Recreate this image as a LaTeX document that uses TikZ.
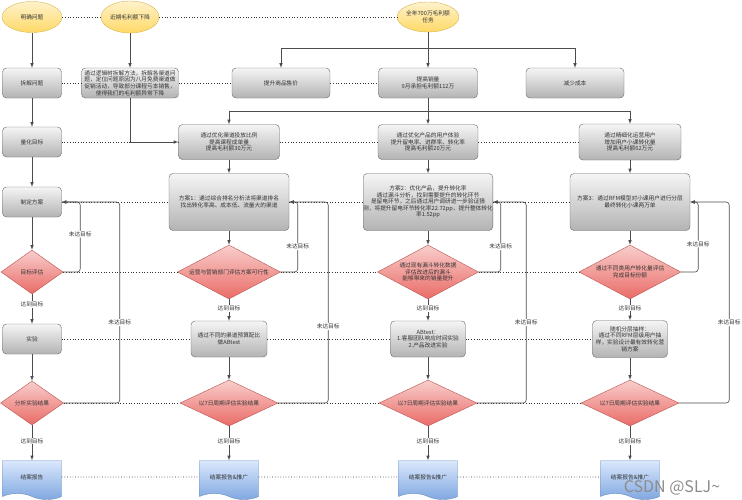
\documentclass[tikz,border=0pt]{standalone}
\usepackage{fontspec}
\newfontfamily\cjk{Noto Sans CJK SC}
\usepackage{tikz}
\usetikzlibrary{shapes,arrows,positioning}
\definecolor{yelTop}{HTML}{FFF2CC}
\definecolor{yelBot}{HTML}{FFD966}
\definecolor{yelLine}{HTML}{D6B656}
\definecolor{grayTop}{HTML}{F5F5F5}
\definecolor{grayBot}{HTML}{B3B3B3}
\definecolor{grayLine}{HTML}{666666}
\definecolor{redTop}{HTML}{F8CECC}
\definecolor{redBot}{HTML}{EA6B66}
\definecolor{redLine}{HTML}{B85450}
\definecolor{blueTop}{HTML}{DAE8FC}
\definecolor{blueBot}{HTML}{7EA6E0}
\definecolor{blueLine}{HTML}{6C8EBF}
\definecolor{textCol}{HTML}{333333}
\tikzstyle{startend} = [draw=yelLine, ellipse, top color=yelTop, bottom color=yelBot,
minimum width=58pt, minimum height=30pt, inner sep=0pt, align=center]
\tikzstyle{block} = [draw=grayLine, rectangle, rounded corners=4pt, top color=grayTop, bottom color=grayBot,
minimum height=30pt, inner sep=0pt, align=center]
\tikzstyle{decision} = [draw=redLine, diamond, shape aspect=1.9, top color=redTop, bottom color=redBot,
inner sep=0pt, align=center]
\tikzstyle{report} = [draw=blueLine, tape, tape bend top=none, tape bend bottom=out and in, tape bend height=6pt,
top color=blueTop, bottom color=blueBot, minimum width=59pt, minimum height=39pt, inner sep=0pt]
\tikzstyle{line} = [draw=black!70, line width=0.6pt, ->, >=latex]
\tikzstyle{link} = [draw=black!80, dotted, line width=0.7pt]
\tikzstyle{lbl} = [fill=white, inner sep=0.8pt]
\begin{document}
\begin{tikzpicture}[node distance=66pt, font=\cjk\fontsize{5.7}{6.6}\selectfont, text=textCol]

	\useasboundingbox (0pt,0pt) rectangle (742pt,-499pt);

	\node [startend, minimum width=60pt, minimum height=31pt] (q1) at (32pt,-17pt) {明确问题};
	\node [block, below of=q1, minimum width=59pt] (q2) {拆解问题};
	\node [block, below of=q2, node distance=59pt, minimum width=59pt] (q3) {量化目标};
	\node [block, below of=q3, node distance=60pt, minimum width=59pt] (q4) {制定方案};
	\node [decision, below of=q4, node distance=70pt, minimum width=62pt, minimum height=44pt] (q5) {目标评估};
	\node [block, below of=q5, node distance=67pt, minimum width=59pt] (q6) {实验};
	\node [decision, below of=q6, node distance=64pt, minimum width=63pt, minimum height=44pt] (q7) {分析实验结果};
	\node [report, below of=q7, node distance=74pt] (q8) {结案报告};

	\node [startend, right of=q1, node distance=98pt, minimum height=32pt] (w1) {近期毛利额下降};
	\node [block, right of=q2, node distance=98pt, minimum width=97pt] (w2) {通过逻辑树拆解方法，拆解各渠道问\\题，定位问题原因为八月免费渠道做\\促销活动，导致部分课程亏本销售，\\使得我们的毛利额异常下降};
	\node [startend, right of=w1, node distance=298pt, minimum width=56pt] (t1) {全年700万毛利额\\任务};
	\node [block, right of=w2, node distance=298pt, minimum width=99pt] (t2) {提高销量\\9月承担毛利额112万};
	\node [block, left of=t2, node distance=147pt, minimum width=98pt] (p1) {提升商品售价};
	\node [block, right of=t2, node distance=147pt, minimum width=98pt] (c1) {减少成本};

	\node [block, right of=q3, node distance=197pt, minimum width=101pt, minimum height=35pt] (a3) {通过优化渠道投放比例\\提高课程成单量\\提高毛利额30万元};
	\node [block, right of=q4, node distance=197pt, minimum width=120pt, minimum height=57pt] (a4) {方案1：通过综合排名分析法将渠道排名\\找出转化率高、成本低、流量大的渠道};
	\node [decision, right of=q5, node distance=197pt, minimum width=103pt, minimum height=54pt] (a5) {运营与营销部门评估方案可行性};
	\node [block, right of=q6, node distance=197pt, minimum width=76pt, minimum height=36pt] (a6) {通过不同的渠道预算配比\\做ABtest};
	\node [decision, right of=q7, node distance=197pt, minimum width=98pt, minimum height=46pt] (a7) {以7日周期评估实验结果};
	\node [report, right of=q8, node distance=197pt] (a8) {结案报告\&推广};

	\node [block, right of=a3, node distance=199pt, minimum width=100pt, minimum height=35pt] (b3) {通过优化产品的用户体验\\提升留电率、进群率、转化率\\提高毛利额20万元};
	\node [block, right of=a4, node distance=199pt, minimum width=129pt, minimum height=57pt] (b4) {方案2：优化产品，提升转化率\\通过漏斗分析，找到需要提升的转化环节\\是留电环节，之后通过用户调研进一步验证猜\\测，将提升留电环节转化率22.72pp，提升整体转化\\率1.52pp};
	\node [decision, right of=a5, node distance=199pt, minimum width=101pt, minimum height=54pt] (b5) {通过现有漏斗转化数据\\评估改进后的漏斗\\能够带来的销量提升};
	\node [block, right of=a6, node distance=199pt, minimum width=75pt, minimum height=36pt] (b6) {ABtest：\\1.客服团队响应时间实验\\2.产品改进实验};
	\node [decision, right of=a7, node distance=199pt, minimum width=98pt, minimum height=46pt] (b7) {以7日周期评估实验结果};
	\node [report, right of=a8, node distance=199pt] (b8) {结案报告\&推广};

	\node [block, right of=b3, node distance=202pt, minimum width=102pt, minimum height=36pt] (c3) {通过精细化运营用户\\增加用户小课转化量\\提高毛利额62万元};
	\node [block, right of=b4, node distance=202pt, minimum width=120pt, minimum height=57pt] (c4) {方案3：通过RFM模型对小课用户进行分层\\最终转化小课两万单};
	\node [decision, right of=b5, node distance=202pt, minimum width=102pt, minimum height=54pt] (c5) {通过不同类用户转化量评估\\完成目标份额};
	\node [block, right of=b6, node distance=202pt, minimum width=75pt, minimum height=37pt] (c6) {随机分层抽样：\\通过不同RFM层级用户抽\\样，实验设计最有效转化营\\销方案};
	\node [decision, right of=b7, node distance=202pt, minimum width=98pt, minimum height=46pt] (c7) {以7日周期评估实验结果};
	\node [report, right of=b8, node distance=202pt] (c8) {结案报告\&推广};

	\node [text=black!45, font=\cjk\fontsize{16}{16}\selectfont] (mark) at (672pt,-488pt) {CSDN @SLJ\textasciitilde};

	\draw [link] (q1) -- (w1) -- (t1);
	\draw [link] (q2) -- (w2) -- (p1) -- (t2);
	\draw [link] (q3) -- (a3) -- (b3) -- (c3);
	\draw [link] (q4) -- (a4) -- (b4) -- (c4);
	\draw [link] (q5) -- (a5) -- (b5) -- (c5);
	\draw [link] (q6) -- (a6) -- (b6) -- (c6);
	\draw [link] (q7) -- (a7) -- (b7) -- (c7);
	\draw [link] (q8) -- (a8) -- (b8) -- (c8);

	\draw [line] (q1) -- (q2);
	\draw [line] (q2) -- (q3);
	\draw [line] (q3) -- (q4);
	\draw [line] (q4) -- (q5);
	\draw [line] (q5) -- node[lbl, pos=0.35] {达到目标} (q6);
	\draw [line] (q6) -- (q7);
	\draw [line] (q7) -- node[lbl, pos=0.45] {达到目标} (q8);
	\draw [line, rounded corners=3pt] (q5.east) -- ++(17pt,0) |- node[lbl, pos=0.27] {未达目标} (q4.east);
	\draw [line, rounded corners=3pt] (q7.east) -- ++(56pt,0) |- node[lbl, pos=0.2] {未达目标} (q4.east);

	\draw [line] (w1) -- (w2);
	\draw [line] (w2) |- (a3);
	\draw [line] (t1) -- (t2);
	\draw [line] (t1.south) -- ++(0,-16pt) -| (p1);
	\draw [line] (t1.south) -- ++(0,-16pt) -| (c1);
	\draw [line] (t2) -- (b3);
	\draw [line] (t2.south) -- ++(0,-13pt) -| (a3);
	\draw [line] (t2.south) -- ++(0,-13pt) -| (c3);

	\draw [line] (a3) -- (a4);
	\draw [line] (a4) -- (a5);
	\draw [line] (a5) -- node[lbl, pos=0.42] {达到目标} (a6);
	\draw [line] (a6) -- (a7);
	\draw [line] (a7) -- node[lbl, pos=0.45] {达到目标} (a8);
	\draw [line, rounded corners=3pt] (a5.east) -- ++(17pt,0) |- node[lbl, pos=0.18] {未达目标} (a4.east);
	\draw [line, rounded corners=3pt] (a7.east) -- ++(50pt,0) |- node[lbl, pos=0.19] {未达目标} (a4.east);

	\draw [line] (b3) -- (b4);
	\draw [line] (b4) -- (b5);
	\draw [line] (b5) -- node[lbl, pos=0.42] {达到目标} (b6);
	\draw [line] (b6) -- (b7);
	\draw [line] (b7) -- node[lbl, pos=0.45] {达到目标} (b8);
	\draw [line, rounded corners=3pt] (b5.east) -- ++(22pt,0) |- node[lbl, pos=0.18] {未达目标} (b4.east);
	\draw [line, rounded corners=3pt] (b7.east) -- ++(49pt,0) |- node[lbl, pos=0.2] {未达目标} (b4.east);

	\draw [line] (c3) -- (c4);
	\draw [line] (c4) -- (c5);
	\draw [line] (c5) -- node[lbl, pos=0.42] {达到目标} (c6);
	\draw [line] (c6) -- (c7);
	\draw [line] (c7) -- node[lbl, pos=0.45] {达到目标} (c8);
	\draw [line, rounded corners=3pt] (c5.east) -- ++(17pt,0) |- node[lbl, pos=0.2] {未达目标} (c4.east);
	\draw [line, rounded corners=3pt] (c7.east) -- ++(50pt,0) |- node[lbl, pos=0.2] {未达目标} (c4.east);

\end{tikzpicture}
\end{document}
